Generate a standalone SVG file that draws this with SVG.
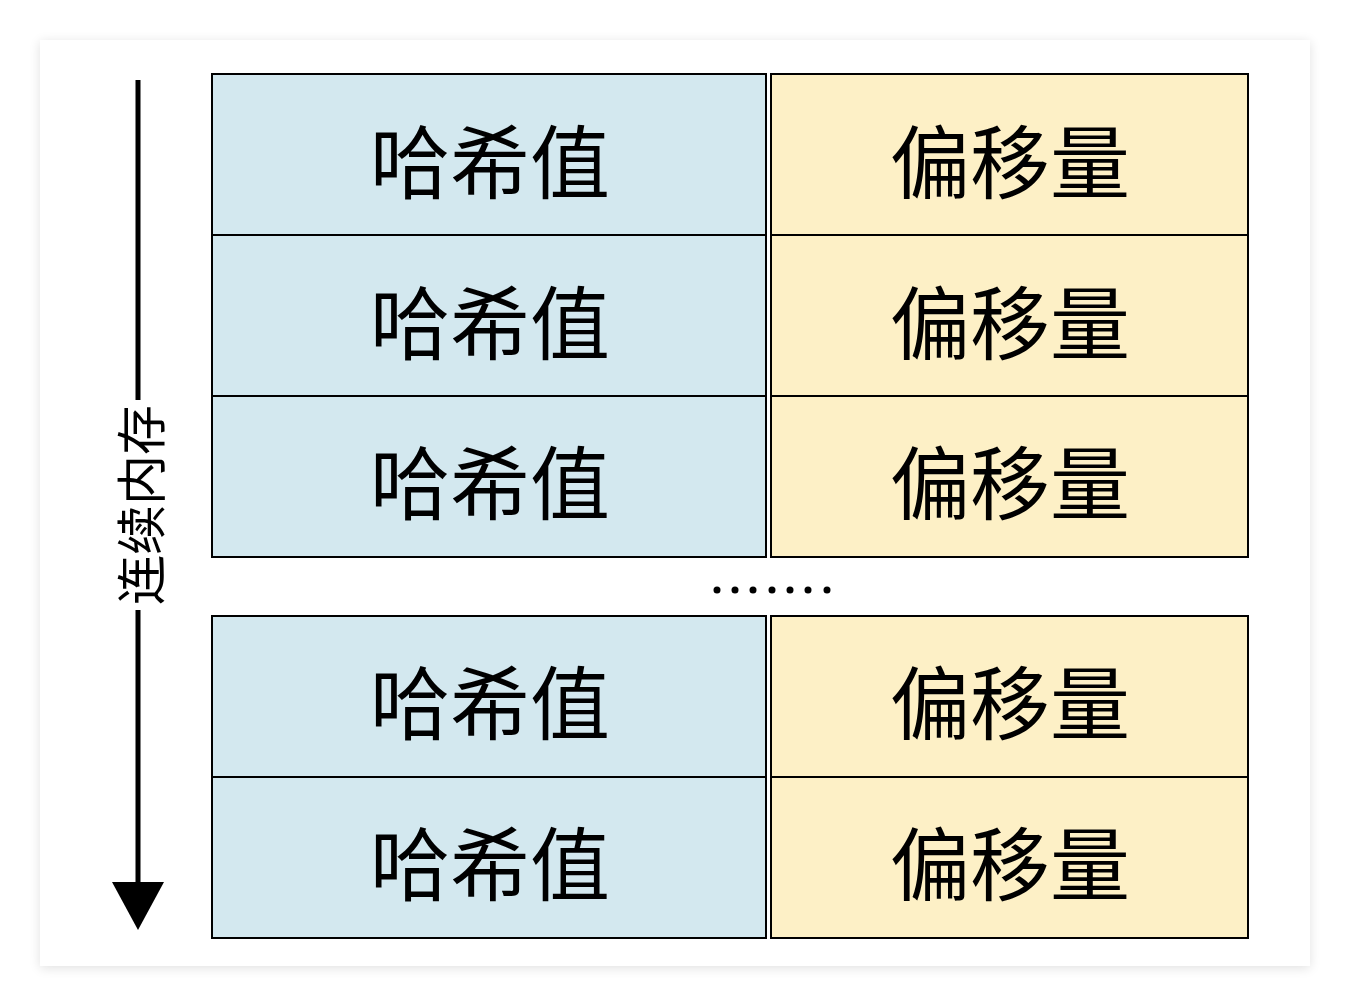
<svg xmlns="http://www.w3.org/2000/svg" width="1350" height="1008" viewBox="0 0 1350 1008">
<defs>
<filter id="sh" x="-5%" y="-5%" width="110%" height="110%"><feGaussianBlur stdDeviation="6"/></filter>
<style>
.h{fill:#d3e8ef;stroke:#000;stroke-width:2}
.o{fill:#fdf0c6;stroke:#000;stroke-width:2}
.t{font-family:"Noto Sans CJK SC",sans-serif;font-size:80px;text-anchor:middle;dominant-baseline:central;fill:#000}
</style>
</defs>
<rect width="1350" height="1008" fill="#fff"/>
<rect x="40" y="42" width="1270" height="926" fill="#000" opacity="0.12" filter="url(#sh)"/>
<rect x="40" y="40" width="1270" height="926" fill="#fff"/>
<g id="connectors">
<line x1="138" y1="80" x2="138" y2="890" stroke="#000" stroke-width="5"/>
<polygon points="112,882 164,882 138,930" fill="#000"/>
<rect x="110" y="400" width="56" height="210" fill="#fff"/>
<text transform="translate(138,505) rotate(-90)" font-family="Noto Sans CJK SC,sans-serif" font-size="50" text-anchor="middle" dominant-baseline="central">连续内存</text>
</g>
<g id="r1"><rect class="h" x="212" y="74" width="554" height="161"/><text class="t" x="490" y="157">哈希值</text><rect class="o" x="771" y="74" width="477" height="161"/><text class="t" x="1010" y="157">偏移量</text></g>
<g id="r2"><rect class="h" x="212" y="235" width="554" height="161"/><text class="t" x="490" y="318">哈希值</text><rect class="o" x="771" y="235" width="477" height="161"/><text class="t" x="1010" y="318">偏移量</text></g>
<g id="r3"><rect class="h" x="212" y="396" width="554" height="161"/><text class="t" x="490" y="478">哈希值</text><rect class="o" x="771" y="396" width="477" height="161"/><text class="t" x="1010" y="478">偏移量</text></g>
<g id="dots" fill="#000"><circle cx="717" cy="590" r="3.5"/><circle cx="735" cy="590" r="3.5"/><circle cx="753" cy="590" r="3.5"/><circle cx="772" cy="590" r="3.5"/><circle cx="790" cy="590" r="3.5"/><circle cx="808" cy="590" r="3.5"/><circle cx="827" cy="590" r="3.5"/></g>
<g id="r4"><rect class="h" x="212" y="616" width="554" height="161"/><text class="t" x="490" y="698">哈希值</text><rect class="o" x="771" y="616" width="477" height="161"/><text class="t" x="1010" y="698">偏移量</text></g>
<g id="r5"><rect class="h" x="212" y="777" width="554" height="161"/><text class="t" x="490" y="859">哈希值</text><rect class="o" x="771" y="777" width="477" height="161"/><text class="t" x="1010" y="859">偏移量</text></g>
</svg>
